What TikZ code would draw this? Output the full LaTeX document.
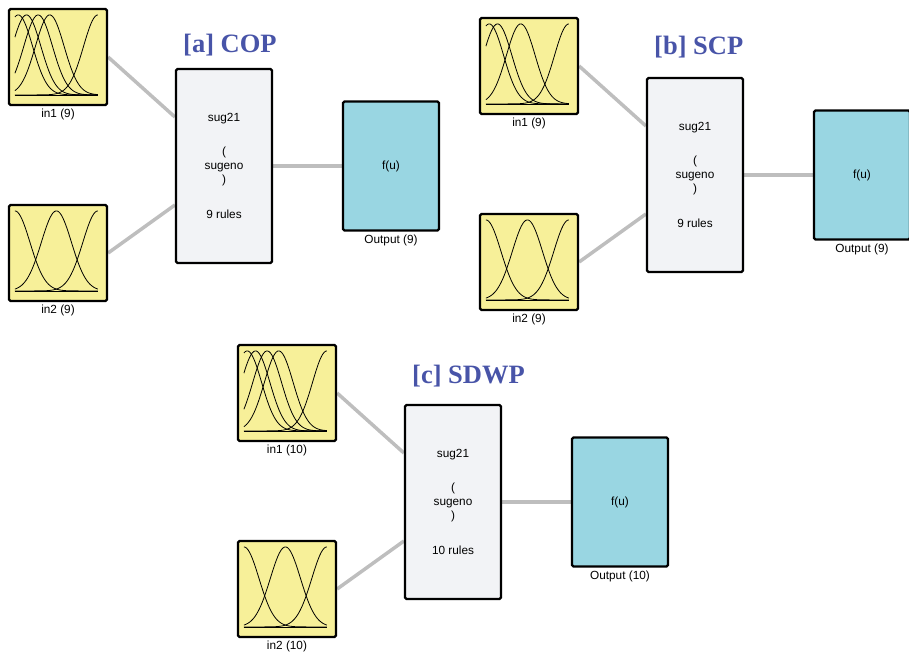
\documentclass[tikz,border=0pt]{standalone}
\usepackage{fontspec}
\newfontfamily\labelfont{Liberation Sans}
\newfontfamily\titlefont{Liberation Serif}
\usepackage{tikz}
\usetikzlibrary{positioning,backgrounds}
\definecolor{mfyellow}{RGB}{247,240,153}
\definecolor{rulegray}{RGB}{242,243,246}
\definecolor{outblue}{RGB}{153,214,226}
\definecolor{titleblue}{RGB}{72,84,168}
\definecolor{wiregray}{RGB}{190,190,190}

\begin{document}
\begin{tikzpicture}[x=1pt,y=-1pt,
	inbox/.style={draw,line width=2.2pt,rounded corners=1.5pt,fill=mfyellow,minimum width=98pt,minimum height=96pt,inner sep=0pt},
	rulebox/.style={draw,line width=2.2pt,rounded corners=1.5pt,fill=rulegray,minimum width=96pt,minimum height=194pt,inner sep=0pt,align=center,font=\labelfont\fontsize{11.8}{14}\selectfont},
	outbox/.style={draw,line width=2.2pt,rounded corners=1.5pt,fill=outblue,minimum width=96pt,minimum height=129pt,inner sep=0pt,font=\labelfont\fontsize{11.8}{14}\selectfont},
	blocklabel/.style={font=\labelfont\fontsize{11.8}{13}\selectfont,inner sep=2pt},
	paneltitle/.style={font=\titlefont\fontsize{26.5}{30}\selectfont\bfseries,text=titleblue,anchor=base west,inner sep=0pt},
	wire/.style={line width=3.5pt,color=wiregray},
	mf/.style={line width=0.8pt}]
	\useasboundingbox (0,0) rectangle (909,657);
	
	\coordinate (a) at (0,0);
	\coordinate (b) at (471,9);
	\coordinate (c) at (229,336);
	
	% [a] COP
	\node[inbox] (in1a) at ([shift={(58,57)}]a) {};
	\node[inbox] (in2a) at ([shift={(58,253)}]a) {};
	\node[rulebox] (rulea) at ([shift={(224,166)}]a) {sug21\\[20pt](\\sugeno\\)\\[21pt]9 rules};
	\node[outbox] (outa) at ([shift={(391,166)}]a) {f(u)};
	\node[blocklabel,below=1pt of in1a] (in1alabel) {in1 (9)};
	\node[blocklabel,below=1pt of in2a] (in2alabel) {in2 (9)};
	\node[blocklabel,below=1pt of outa] (outalabel) {Output (9)};
	\node[paneltitle] (titlea) at (183,52) {[a] COP};
	
	% [b] SCP
	\node[inbox] (in1b) at ([shift={(58,57)}]b) {};
	\node[inbox] (in2b) at ([shift={(58,253)}]b) {};
	\node[rulebox] (ruleb) at ([shift={(224,166)}]b) {sug21\\[20pt](\\sugeno\\)\\[21pt]9 rules};
	\node[outbox] (outb) at ([shift={(391,166)}]b) {f(u)};
	\node[blocklabel,below=1pt of in1b] (in1blabel) {in1 (9)};
	\node[blocklabel,below=1pt of in2b] (in2blabel) {in2 (9)};
	\node[blocklabel,below=1pt of outb] (outblabel) {Output (9)};
	\node[paneltitle] (titleb) at (654,54) {[b] SCP};
	
	% [c] SDWP
	\node[inbox] (in1c) at ([shift={(58,57)}]c) {};
	\node[inbox] (in2c) at ([shift={(58,253)}]c) {};
	\node[rulebox] (rulec) at ([shift={(224,166)}]c) {sug21\\[20pt](\\sugeno\\)\\[21pt]10 rules};
	\node[outbox] (outc) at ([shift={(391,166)}]c) {f(u)};
	\node[blocklabel,below=1pt of in1c] (in1clabel) {in1 (10)};
	\node[blocklabel,below=1pt of in2c] (in2clabel) {in2 (10)};
	\node[blocklabel,below=1pt of outc] (outclabel) {Output (10)};
	\node[paneltitle] (titlec) at (412,383) {[c] SDWP};
	
	% wires
	\begin{scope}[on background layer]
		\draw[wire] (in1a.east) -- ([yshift=49pt]rulea.west);
		\draw[wire] (in2a.east) -- ([yshift=-39pt]rulea.west);
		\draw[wire] (rulea.east) -- (outa.west);
		\draw[wire] (in1b.east) -- ([yshift=49pt]ruleb.west);
		\draw[wire] (in2b.east) -- ([yshift=-39pt]ruleb.west);
		\draw[wire] (ruleb.east) -- (outb.west);
		\draw[wire] (in1c.east) -- ([yshift=49pt]rulec.west);
		\draw[wire] (in2c.east) -- ([yshift=-39pt]rulec.west);
		\draw[wire] (rulec.east) -- (outc.west);
	\end{scope}
	
	% membership functions
	\foreach \m in {0.04,0.14,0.28,0.42,1}
		\draw[mf,shift={(in1a.north west)}] plot[domain=0:1,samples=60] ({7+83*\x},{87-80*exp(-(\x-\m)*(\x-\m)/0.06)});
	\foreach \m in {0.04,0.14,0.42,1}
		\draw[mf,shift={(in1b.north west)}] plot[domain=0:1,samples=60] ({7+83*\x},{87-80*exp(-(\x-\m)*(\x-\m)/0.06)});
	\foreach \m in {0.04,0.14,0.28,0.42,1}
		\draw[mf,shift={(in1c.north west)}] plot[domain=0:1,samples=60] ({7+83*\x},{87-80*exp(-(\x-\m)*(\x-\m)/0.06)});
	\foreach \m in {0,0.5,1} {
		\draw[mf,shift={(in2a.north west)}] plot[domain=0:1,samples=60] ({7+83*\x},{87-80*exp(-(\x-\m)*(\x-\m)/0.066)});
		\draw[mf,shift={(in2b.north west)}] plot[domain=0:1,samples=60] ({7+83*\x},{87-80*exp(-(\x-\m)*(\x-\m)/0.066)});
		\draw[mf,shift={(in2c.north west)}] plot[domain=0:1,samples=60] ({7+83*\x},{87-80*exp(-(\x-\m)*(\x-\m)/0.066)});
	}
	\draw[mf,shift={(in1a.north west)}] (7,87) -- (90,87);
	\draw[mf,shift={(in1b.north west)}] (7,87) -- (90,87);
	\draw[mf,shift={(in1c.north west)}] (7,87) -- (90,87);
	\draw[mf,shift={(in2a.north west)}] (7,87) -- (90,87);
	\draw[mf,shift={(in2b.north west)}] (7,87) -- (90,87);
	\draw[mf,shift={(in2c.north west)}] (7,87) -- (90,87);
\end{tikzpicture}
\end{document}
